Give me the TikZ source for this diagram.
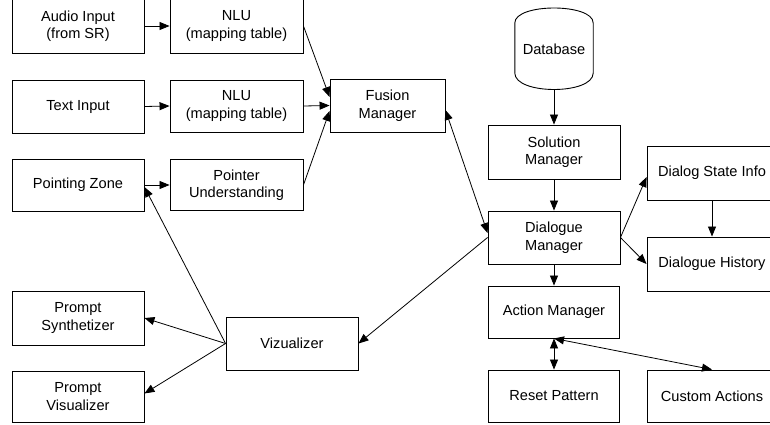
\documentclass[tikz,border=0pt]{standalone}
\usepackage{fontspec}
\setmainfont{Liberation Sans}
\usetikzlibrary{arrows.meta}

\begin{document}
\begin{tikzpicture}[x=1pt, y=-1pt,
    font=\fontsize{14.6}{17.5}\selectfont,
    box/.style={draw=black, line width=0.9pt, align=center, inner sep=0pt,
                minimum width=132pt, minimum height=53pt},
    flow/.style={-{Triangle[length=10pt,width=8pt]}, line width=0.8pt},
    twoway/.style={{Triangle[length=10pt,width=8pt]}-{Triangle[length=10pt,width=8pt]}, line width=0.8pt}]
    \useasboundingbox (0,0) rectangle (770,425);

    % input side
    \node[box, minimum height=54pt] (audio) at (78,26) {Audio Input\\(from SR)};
    \node[box, minimum width=133pt, minimum height=54pt] (nluaudio) at (236.5,26) {NLU\\(mapping table)};
    \node[box] (text) at (78,106.5) {Text Input};
    \node[box, minimum width=133pt, minimum height=52pt] (nlutext) at (236.5,106) {NLU\\(mapping table)};
    \node[box, minimum height=52pt] (pointing) at (78,185) {Pointing Zone};
    \node[box, minimum width=133pt, minimum height=51pt] (pointer) at (236.5,185) {Pointer\\Understanding};
    \node[box, minimum width=115pt] (fusion) at (387.5,105.5) {Fusion\\Manager};

    % output side
    \node[box, minimum height=54pt] (synth) at (78,318) {Prompt\\Synthetizer};
    \node[box, minimum height=51pt] (promptvis) at (78,396.5) {Prompt\\Visualizer};
    \node[box] (viz) at (292,343.5) {Vizualizer};

    % dialogue core
    \node[minimum width=78pt, minimum height=82pt, inner sep=0pt] (db) at (554,49) {Database};
    \draw[line width=0.9pt] (db.west |- 0,23) .. controls (db.west |- 0,3) and (db.east |- 0,3) .. (db.east |- 0,23)
        -- (db.east |- 0,73) .. controls (db.east |- 0,95) and (db.west |- 0,95) .. (db.west |- 0,73) -- cycle;
    \node[box, minimum height=54pt] (solution) at (554,152) {Solution\\Manager};
    \node[box] (dialogue) at (554,237.5) {Dialogue\\Manager};
    \node[box, minimum width=131pt, minimum height=52pt] (action) at (554,312) {Action Manager};
    \node[box, minimum width=131pt, minimum height=52pt] (reset) at (554,396) {Reset Pattern};
    \node[box, minimum width=130pt, minimum height=54pt] (state) at (712,173) {Dialog State Info};
    \node[box, minimum width=130pt, minimum height=54pt] (history) at (712,264) {Dialogue History};
    \node[box, minimum width=130pt, minimum height=52pt] (custom) at (712,396) {Custom Actions};

    \draw[flow] (audio.east) -- (nluaudio.west);
    \draw[flow] (text.east) -- (nlutext.west);
    \draw[flow] (pointing.east) -- (pointer.west);
    \draw[flow] (nluaudio.east) -- ([yshift=8.5pt]fusion.west);
    \draw[flow] (nlutext.east) -- (fusion.west);
    \draw[flow] (pointer.east) -- ([yshift=-5.5pt]fusion.west);
    \draw[twoway] ([yshift=-4.5pt]fusion.east) -- ([yshift=4.5pt]dialogue.west);

    \draw[flow] (db.south) -- (solution.north);
    \draw[flow] (solution.south) -- (dialogue.north);
    \draw[flow] (dialogue.east) -- ([yshift=-4pt]state.west);
    \draw[flow] (dialogue.east) -- (history.west);
    \draw[flow] (state.south) -- (history.north);
    \draw[flow] (dialogue.south) -- (action.north);
    \draw[twoway] (action.south) -- (reset.north);
    \draw[twoway] (action.south) -- (custom.north);

    \draw[flow] (dialogue.west) -- (viz.east);
    \draw[flow] (viz.west) -- ([yshift=-2pt]pointing.east);
    \draw[flow] (viz.west) -- (synth.east);
    \draw[flow] (viz.west) -- ([yshift=3pt]promptvis.east);
\end{tikzpicture}
\end{document}
